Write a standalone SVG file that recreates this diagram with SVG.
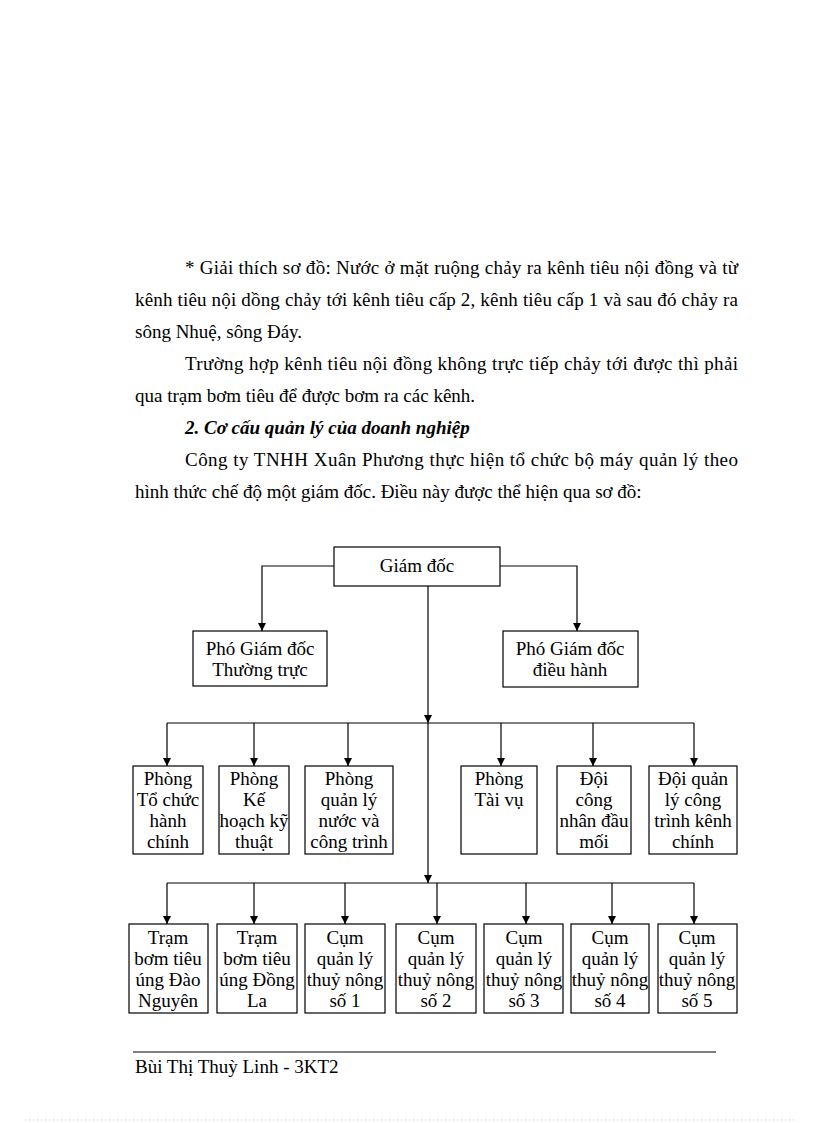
<svg xmlns="http://www.w3.org/2000/svg" width="816" height="1123" viewBox="0 0 816 1123">
<style>
.p{font-family:"Liberation Serif","Times New Roman",serif;font-size:19px;fill:#000}
.h{font-family:"Liberation Serif","Times New Roman",serif;font-size:19px;font-weight:bold;font-style:italic;fill:#000}
.box rect{fill:#fff;stroke:#000;stroke-width:1.2}
.box text{font-family:"Liberation Serif","Times New Roman",serif;font-size:19px;fill:#000;text-anchor:middle}
.c{fill:none;stroke:#000;stroke-width:1.2}
</style>
<defs>
<marker id="a" viewBox="0 0 8 10" refX="8" refY="5" markerWidth="8" markerHeight="10" markerUnits="userSpaceOnUse" orient="auto">
<path d="M0,1 L8,5 L0,9 Z" fill="#000"/>
</marker>
</defs>
<rect width="816" height="1123" fill="#fff"/>
<g id="body">
<text class="p" x="185" y="274" textLength="553" lengthAdjust="spacing">* Giải thích sơ đồ: Nước ở mặt ruộng chảy ra kênh tiêu nội đồng và từ</text>
<text class="p" x="135" y="306" textLength="603" lengthAdjust="spacing">kênh tiêu nội dồng chảy tới kênh tiêu cấp 2, kênh tiêu cấp 1 và sau đó chảy ra</text>
<text class="p" x="135" y="338">sông Nhuệ, sông Đáy.</text>
<text class="p" x="185" y="370" textLength="553" lengthAdjust="spacing">Trường hợp kênh tiêu nội đồng không trực tiếp chảy tới được thì phải</text>
<text class="p" x="135" y="402">qua trạm bơm tiêu để được bơm ra các kênh.</text>
<text class="h" x="185" y="434">2. Cơ cấu quản lý của doanh nghiệp</text>
<text class="p" x="185" y="466" textLength="553" lengthAdjust="spacing">Công ty TNHH Xuân Phương thực hiện tổ chức bộ máy quản lý theo</text>
<text class="p" x="135" y="498">hình thức chế độ một giám đốc. Điều này được thể hiện qua sơ đồ:</text>
</g>
<g id="connectors">
<path class="c" d="M334,566 H262 V631" marker-end="url(#a)"/>
<path class="c" d="M500,566 H577 V631" marker-end="url(#a)"/>
<path class="c" d="M428,586 V723" marker-end="url(#a)"/>
<path class="c" d="M428,723 V883" marker-end="url(#a)"/>
<path class="c" d="M167,723 H694"/>
<path class="c" d="M167,723 V766" marker-end="url(#a)"/>
<path class="c" d="M254,723 V766" marker-end="url(#a)"/>
<path class="c" d="M348,723 V766" marker-end="url(#a)"/>
<path class="c" d="M501,723 V766" marker-end="url(#a)"/>
<path class="c" d="M593,723 V766" marker-end="url(#a)"/>
<path class="c" d="M694,723 V766" marker-end="url(#a)"/>
<path class="c" d="M167,883 H694"/>
<path class="c" d="M167,883 V924" marker-end="url(#a)"/>
<path class="c" d="M254,883 V924" marker-end="url(#a)"/>
<path class="c" d="M345,883 V924" marker-end="url(#a)"/>
<path class="c" d="M437,883 V924" marker-end="url(#a)"/>
<path class="c" d="M526,883 V924" marker-end="url(#a)"/>
<path class="c" d="M612,883 V924" marker-end="url(#a)"/>
<path class="c" d="M694,883 V924" marker-end="url(#a)"/>
</g>
<g id="n-giamdoc" class="box"><rect x="334" y="547" width="166" height="39"/><text x="417" y="572">Giám đốc</text></g>
<g id="n-pgd-tt" class="box"><rect x="193" y="631" width="134" height="55"/><text x="260" y="655">Phó Giám đốc</text><text x="260" y="676">Thường trực</text></g>
<g id="n-pgd-dh" class="box"><rect x="503" y="631" width="135" height="56"/><text x="570" y="655">Phó Giám đốc</text><text x="570" y="676">điều hành</text></g>
<g id="n-tochuc" class="box"><rect x="133" y="766" width="70" height="88"/><text x="168" y="785">Phòng</text><text x="168" y="806">Tổ chức</text><text x="168" y="827">hành</text><text x="168" y="848">chính</text></g>
<g id="n-kehoach" class="box"><rect x="219" y="766" width="70" height="88"/><text x="254" y="785">Phòng</text><text x="254" y="806">Kế</text><text x="254" y="827">hoạch kỹ</text><text x="254" y="848">thuật</text></g>
<g id="n-quanlynuoc" class="box"><rect x="305" y="766" width="88" height="88"/><text x="349" y="785">Phòng</text><text x="349" y="806">quản lý</text><text x="349" y="827">nước và</text><text x="349" y="848">công trình</text></g>
<g id="n-taivu" class="box"><rect x="461" y="766" width="76" height="88"/><text x="499" y="785">Phòng</text><text x="499" y="806">Tài vụ</text></g>
<g id="n-doicongnhan" class="box"><rect x="557" y="766" width="74" height="88"/><text x="594" y="785">Đội</text><text x="594" y="806">công</text><text x="594" y="827">nhân đầu</text><text x="594" y="848">mối</text></g>
<g id="n-doiquanly" class="box"><rect x="649" y="766" width="88" height="88"/><text x="693" y="785">Đội quản</text><text x="693" y="806">lý công</text><text x="693" y="827">trình kênh</text><text x="693" y="848">chính</text></g>
<g id="n-tram1" class="box"><rect x="129" y="924" width="79" height="89"/><text x="168" y="944">Trạm</text><text x="168" y="965">bơm tiêu</text><text x="168" y="986">úng Đào</text><text x="168" y="1007">Nguyên</text></g>
<g id="n-tram2" class="box"><rect x="217" y="924" width="80" height="89"/><text x="257" y="944">Trạm</text><text x="257" y="965">bơm tiêu</text><text x="257" y="986">úng Đồng</text><text x="257" y="1007">La</text></g>
<g id="n-cum1" class="box"><rect x="305" y="924" width="80" height="89"/><text x="345" y="944">Cụm</text><text x="345" y="965">quản lý</text><text x="345" y="986">thuỷ nông</text><text x="345" y="1007">số 1</text></g>
<g id="n-cum2" class="box"><rect x="396" y="924" width="80" height="89"/><text x="436" y="944">Cụm</text><text x="436" y="965">quản lý</text><text x="436" y="986">thuỷ nông</text><text x="436" y="1007">số 2</text></g>
<g id="n-cum3" class="box"><rect x="484" y="924" width="79" height="89"/><text x="524" y="944">Cụm</text><text x="524" y="965">quản lý</text><text x="524" y="986">thuỷ nông</text><text x="524" y="1007">số 3</text></g>
<g id="n-cum4" class="box"><rect x="571" y="924" width="78" height="89"/><text x="610" y="944">Cụm</text><text x="610" y="965">quản lý</text><text x="610" y="986">thuỷ nông</text><text x="610" y="1007">số 4</text></g>
<g id="n-cum5" class="box"><rect x="658" y="924" width="79" height="89"/><text x="697" y="944">Cụm</text><text x="697" y="965">quản lý</text><text x="697" y="986">thuỷ nông</text><text x="697" y="1007">số 5</text></g>
<g id="footer">
<line x1="133" y1="1052" x2="716" y2="1052" stroke="#000" stroke-width="1"/>
<text class="p" x="135" y="1073">Bùi Thị Thuỳ Linh - 3KT2</text>
<line x1="25" y1="1120" x2="795" y2="1120" stroke="#bbb" stroke-width="1" stroke-dasharray="1,3"/>
</g>
</svg>
